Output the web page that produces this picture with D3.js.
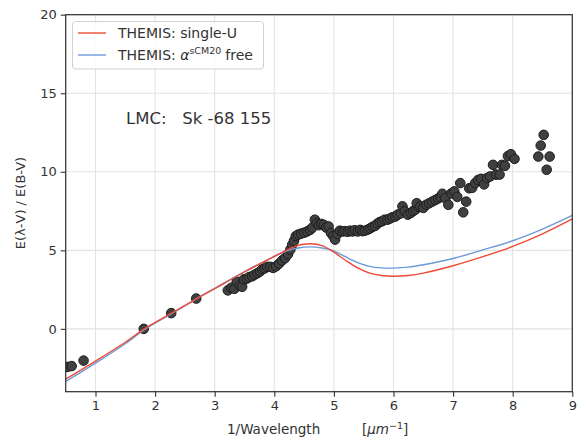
<!DOCTYPE html>
<html><head><meta charset="utf-8">
<script src="https://cdn.jsdelivr.net/npm/d3@7"></script>
<style>
body{margin:0;background:#fff;}
text{font-family:"DejaVu Sans",sans-serif;fill:#333;}
</style></head>
<body><svg id="c" width="588" height="444"></svg>
<script>
// Observed data points (1/wavelength, E(λ-V)/E(B-V))
const obsX = [0.53,0.60,0.80,1.81,2.27,2.69,
 3.22,3.28,3.33,3.37,3.42,3.46,3.49,3.54,3.58,3.63,3.67,3.72,3.76,3.80,3.84,3.88,3.93,3.98,4.03,4.08,4.13,4.18,4.23,4.27,4.30,4.33,4.36,4.40,4.45,4.50,4.55,4.60,4.64,4.68,4.71,4.75,4.79,4.83,4.87,4.91,4.95,4.99,5.02,5.06,5.10,5.14,5.18,5.23,5.27,5.31,5.35,5.40,5.44,5.48,5.52,5.57,5.61,5.65,5.69,5.73,5.77,5.81,5.85,5.90,5.94,5.98,6.03,6.07,6.12,6.15,6.19,6.24,6.29,6.33,6.37,6.41,6.39,6.45,6.50,6.55,6.60,6.65,6.70,6.75,6.79,6.82,6.87,6.92,6.97,7.02,7.07,7.12,7.17,7.22,7.27,7.32,7.37,7.42,7.47,7.52,7.57,7.62,7.67,7.72,7.78,7.82,7.87,7.92,7.97,8.03,
 8.43,8.47,8.52,8.57,8.62];
const obsY = [-2.42,-2.37,-2.02,0.0,1.0,1.93,
 2.45,2.62,2.55,3.0,2.75,2.68,3.15,3.2,3.3,3.35,3.45,3.55,3.65,3.8,3.85,3.95,3.95,3.88,3.98,4.15,4.35,4.5,4.75,5.05,5.35,5.6,5.9,6.0,6.06,6.12,6.2,6.3,6.45,6.95,6.72,6.6,6.68,6.62,6.45,6.52,6.1,5.9,5.68,6.05,6.25,6.2,6.22,6.18,6.25,6.2,6.28,6.2,6.3,6.22,6.25,6.32,6.4,6.5,6.55,6.7,6.8,6.85,6.95,6.95,7.02,7.1,7.15,7.27,7.35,7.8,7.48,7.27,7.38,7.5,7.6,7.78,8.0,7.8,7.7,7.9,8.0,8.1,8.2,8.3,8.4,8.6,8.32,7.9,8.62,8.75,8.4,9.28,7.42,8.1,8.95,8.98,9.28,9.48,9.55,9.2,9.6,9.7,10.44,9.82,9.82,10.44,10.38,11.0,11.12,10.82,
 10.97,11.67,12.35,10.13,10.97];

// Model curves
const modelX    = [0.5,1.0,1.5,1.82,2.27,2.7,3.0,3.5,4.0,4.2,4.4,4.6,4.8,5.0,5.2,5.4,5.6,5.8,6.0,6.25,6.5,7.0,7.5,8.0,8.5,9.0];
const singleU   = [-3.2,-2.05,-0.85,0.0,0.98,1.93,2.56,3.62,4.62,5.0,5.32,5.42,5.3,4.88,4.35,3.88,3.55,3.4,3.35,3.4,3.55,4.02,4.6,5.25,6.05,7.0];
const alphaFree = [-3.35,-2.18,-0.95,-0.05,0.96,1.93,2.58,3.65,4.6,4.95,5.15,5.22,5.15,4.97,4.58,4.22,3.98,3.88,3.87,3.93,4.08,4.48,5.03,5.61,6.35,7.22];

const xTicks = [1,2,3,4,5,6,7,8,9];
const yTicks = [0,5,10,15,20];
const seriesNames = ["THEMIS: single-U","THEMIS: \u03b1 sCM20 free"];

const svg = d3.select("#c");
const L=65.7, R=572.3, T=14.7, B=391.7;
const x = d3.scaleLinear().domain([0.5,9]).range([L,R]);
const y = d3.scaleLinear().domain([-4,20]).range([B,T]);

svg.append("defs").append("clipPath").attr("id","clip")
  .append("rect").attr("x",L).attr("y",T).attr("width",R-L).attr("height",B-T);

// grid
const grid = svg.append("g");
grid.selectAll(".gx").data(xTicks.filter(d=>d<9)).enter().append("line")
  .attr("x1",d=>x(d)).attr("x2",d=>x(d)).attr("y1",T).attr("y2",B)
  .attr("stroke","#e3e3e3").attr("stroke-width",1.1);
grid.selectAll(".gy").data(yTicks.filter(d=>d<20)).enter().append("line")
  .attr("y1",d=>y(d)).attr("y2",d=>y(d)).attr("x1",L).attr("x2",R)
  .attr("stroke","#e3e3e3").attr("stroke-width",1.1);

const plot = svg.append("g").attr("clip-path","url(#clip)");

// points
const pts = obsX.map((v,i)=>[v,obsY[i]]);
plot.selectAll("circle").data(pts).enter().append("circle")
  .attr("cx",d=>x(d[0])).attr("cy",d=>y(d[1])).attr("r",4.8)
  .attr("fill","#404040").attr("stroke","#1c1c1c").attr("stroke-width",1);

// curves
const line = d3.line().x(d=>x(d[0])).y(d=>y(d[1])).curve(d3.curveCatmullRom.alpha(0.5));
const red="#ef4a36", blue="#6b9bd9";
plot.append("path").datum(modelX.map((v,i)=>[v,alphaFree[i]])).attr("d",line)
  .attr("fill","none").attr("stroke",blue).attr("stroke-width",1.4);
plot.append("path").datum(modelX.map((v,i)=>[v,singleU[i]])).attr("d",line)
  .attr("fill","none").attr("stroke",red).attr("stroke-width",1.4);

// axes
const xa = svg.append("g").attr("transform",`translate(0,${B})`)
  .call(d3.axisBottom(x).tickValues(xTicks).tickSize(5).tickPadding(4).tickFormat(d3.format("d")));
const ya = svg.append("g").attr("transform",`translate(${L},0)`)
  .call(d3.axisLeft(y).tickValues(yTicks).tickSize(5).tickPadding(4).tickFormat(d3.format("d")));
[xa,ya].forEach(a=>{
  a.select(".domain").remove();
  a.selectAll("line").attr("stroke","#333").attr("stroke-width",1.1);
  a.selectAll("text").attr("font-size",13).attr("fill","#444").style("font-family","DejaVu Sans");
});
// spines
svg.append("rect").attr("x",L).attr("y",T).attr("width",R-L).attr("height",B-T)
  .attr("fill","none").attr("stroke","#333").attr("stroke-width",1.25);

// axis labels
const xl = svg.append("text").attr("x",227).attr("y",434).attr("font-size",13.5).attr("fill","#444");
xl.append("tspan").text("1/Wavelength");
xl.append("tspan").attr("x",362).text("[");
xl.append("tspan").attr("font-style","italic").text("\u03bcm");
xl.append("tspan").attr("dy",-5).attr("font-size",9.5).text("\u22121");
xl.append("tspan").attr("dy",5).text("]");

svg.append("text").attr("transform","translate(25,203) rotate(-90)")
  .attr("text-anchor","middle").attr("font-size",13).attr("fill","#444")
  .text("E(\u03bb-V) / E(B-V)");

// annotation
svg.append("text").attr("x",126).attr("y",124).attr("font-size",16.5).attr("fill","#444")
  .attr("xml:space","preserve").style("white-space","pre").text("LMC:   Sk -68 155");

// legend
const lg = svg.append("g");
lg.append("rect").attr("x",72.5).attr("y",21.5).attr("width",191).attr("height",47.5)
  .attr("rx",3).attr("fill","#fff").attr("fill-opacity",0.8).attr("stroke","#d0d0d0");
[[red,33],[blue,55]].forEach(([c,yy])=>{
  lg.append("line").attr("x1",78).attr("x2",106).attr("y1",yy).attr("y2",yy).attr("stroke",c).attr("stroke-width",1.4);
});
lg.append("text").attr("x",118).attr("y",38).attr("font-size",14).attr("fill","#444").text(seriesNames[0]);
const t2 = lg.append("text").attr("x",118).attr("y",60).attr("font-size",14).attr("fill","#444");
t2.append("tspan").text("THEMIS: ");
t2.append("tspan").attr("font-style","italic").text("\u03b1");
t2.append("tspan").attr("dy",-6).attr("font-size",9.5).text("sCM20");
t2.append("tspan").attr("dy",6).attr("dx",4).text("free");
</script></body></html>
